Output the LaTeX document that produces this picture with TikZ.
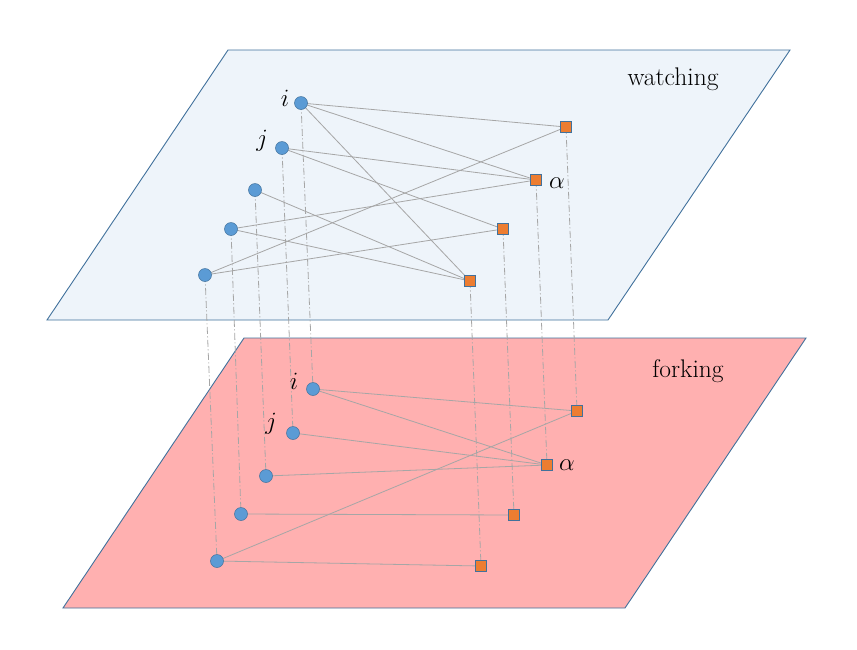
\documentclass[tikz,border=0pt]{standalone}
\usepackage{fontspec}
\definecolor{topfill}{HTML}{EEF4FA}
\definecolor{botfill}{HTML}{FFB0B0}
\definecolor{planeline}{HTML}{41719C}
\definecolor{cfill}{HTML}{5B9BD5}
\definecolor{sfill}{HTML}{ED7D31}
\definecolor{edgegray}{HTML}{A6A6A6}
\pgfdeclarelayer{planes}
\pgfdeclarelayer{lines}
\pgfsetlayers{planes,lines,main}
\tikzset{
  plane/.style={draw=planeline, line width=0.9pt},
  cnode/.style={circle, fill=cfill, draw=planeline, line width=0.5pt, minimum size=13pt, inner sep=0pt},
  snode/.style={rectangle, fill=sfill, draw=planeline, line width=0.7pt, minimum size=10.5pt, inner sep=0pt},
  edge/.style={draw=edgegray, line width=0.8pt},
  vline/.style={draw=edgegray, line width=0.8pt, dash pattern=on 7pt off 2.5pt on 1pt off 2.5pt},
  lbl/.style={font=\fontsize{24}{26}\selectfont, inner sep=0pt},
  ptitle/.style={font=\rmfamily\fontsize{25.5}{30}\selectfont, inner sep=0pt}
}
\begin{document}
\begin{tikzpicture}[x=1pt,y=-1pt]
\useasboundingbox (0,0) rectangle (857,649);
% planes
\begin{pgfonlayer}{planes}
\draw[plane, fill=topfill] (228,50) -- (790,50) -- (608,320) -- (47,320) -- cycle;
\draw[plane, fill=botfill] (244,338) -- (806,338) -- (625,608) -- (63,608) -- cycle;
\end{pgfonlayer}
\node[ptitle] (wt) at (673,79) {watching};
\node[ptitle] (ft) at (688,371) {forking};
% top nodes
\node[cnode] (ti) at (301,103) {};
\node[cnode] (tj) at (282,148) {};
\node[cnode] (t3) at (255,190) {};
\node[cnode] (t4) at (231,229) {};
\node[cnode] (t5) at (205,275) {};
\node[snode] (ts1) at (566,127) {};
\node[snode] (ta) at (536,180) {};
\node[snode] (ts3) at (503,229) {};
\node[snode] (ts4) at (470,281) {};
% bottom nodes
\node[cnode] (bi) at (313,389) {};
\node[cnode] (bj) at (293,433) {};
\node[cnode] (b3) at (266,476) {};
\node[cnode] (b4) at (241,514) {};
\node[cnode] (b5) at (217,561) {};
\node[snode] (bs1) at (577,411) {};
\node[snode] (ba) at (547,465) {};
\node[snode] (bs3) at (514,515) {};
\node[snode] (bs4) at (481,566) {};
% labels
\node[lbl] (lti) at (285,98) {$i$};
\node[lbl] (ltj) at (262,141) {$j$};
\node[lbl] (lta) at (557,183) {$\alpha$};
\node[lbl] (lbi) at (294,381) {$i$};
\node[lbl] (lbj) at (271,424) {$j$};
\node[lbl] (lba) at (567,465) {$\alpha$};
\begin{pgfonlayer}{lines}
% vertical dash-dot lines
\foreach \a/\b in {ti/bi, tj/bj, t3/b3, t4/b4, t5/b5, ts1/bs1, ta/ba, ts3/bs3, ts4/bs4}
  \draw[vline] (\a.center) -- (\b.center);
% top edges
\foreach \a/\b in {ti/ts1, ti/ta, ti/ts4, tj/ta, tj/ts3, t3/ts4, t4/ta, t4/ts4, t5/ts1, t5/ts3}
  \draw[edge] (\a.center) -- (\b.center);
% bottom edges
\foreach \a/\b in {bi/bs1, bi/ba, bj/ba, b3/ba, b4/bs3, b5/bs4, b5/bs1}
  \draw[edge] (\a.center) -- (\b.center);
\end{pgfonlayer}
\end{tikzpicture}
\end{document}
